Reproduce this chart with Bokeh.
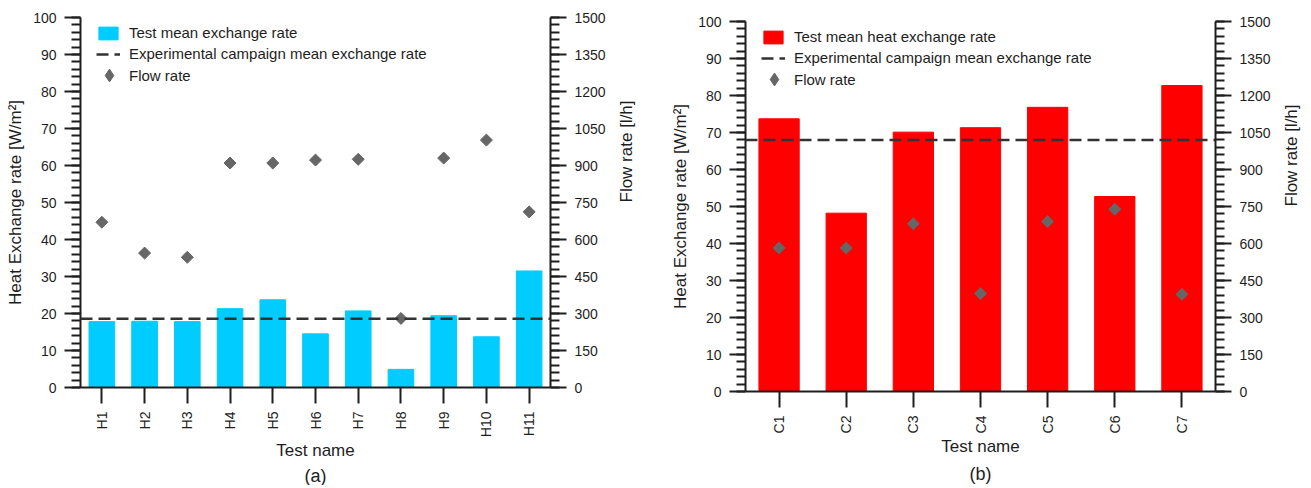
import math
from bokeh.plotting import figure
from bokeh.models import (FactorRange, Range1d, LinearAxis, SingleIntervalTicker,
                          Span, Legend, LegendItem, Title, Spacer)
from bokeh.layouts import row, column
from bokeh.embed import file_html
from bokeh.resources import INLINE

# ---------------- data ----------------
h_tests = ["H1", "H2", "H3", "H4", "H5", "H6", "H7", "H8", "H9", "H10", "H11"]
h_rate = [17.8, 17.9, 17.8, 21.3, 23.7, 14.5, 20.7, 4.9, 19.4, 13.7, 31.5]
h_flow = [670, 545, 528, 910, 910, 922, 925, 280, 930, 1003, 712]
h_mean = 18.6

c_tests = ["C1", "C2", "C3", "C4", "C5", "C6", "C7"]
c_rate = [73.7, 48.2, 70.1, 71.3, 76.8, 52.7, 82.7]
c_flow = [582, 582, 680, 397, 689, 739, 394]
c_mean = 68.0

rate_max, rate_step = 100, 10
flow_max, flow_step = 1500, 150

FONT = "Liberation Sans"
AX = "#1e1e1e"
FW, FH = 470, 370


def style_axis(ax, minor=True):
    ax.axis_line_color = AX
    ax.axis_line_width = 2
    ax.major_tick_line_color = AX
    ax.major_tick_line_width = 2
    ax.major_tick_out = 16
    ax.major_tick_in = 0
    if minor:
        ax.minor_tick_line_color = AX
        ax.minor_tick_line_width = 2
        ax.minor_tick_out = 9
        ax.minor_tick_in = 0
    ax.major_label_text_font = FONT
    ax.major_label_text_font_size = "14px"
    ax.major_label_text_color = AX
    ax.major_label_standoff = 8
    ax.axis_label_text_font = FONT
    ax.axis_label_text_font_size = "17px"
    ax.axis_label_text_font_style = "normal"
    ax.axis_label_text_color = AX


def make_panel(tests, rates, flows, mean, color, bar_label, caption,
               bl, br, bt, lstand, rstand, capstand):
    p = figure(x_range=FactorRange(*tests), y_range=Range1d(0, rate_max),
               frame_width=FW, frame_height=FH,
               min_border_left=bl, min_border_right=br,
               min_border_top=bt, min_border_bottom=0,
               output_backend="svg", toolbar_location=None,
               outline_line_color=None, background_fill_color="white",
               border_fill_color="white")
    p.xgrid.visible = False
    p.ygrid.visible = False
    p.extra_y_ranges = {"flow": Range1d(0, flow_max)}

    yax = p.yaxis[0]
    yax.ticker = SingleIntervalTicker(interval=rate_step, num_minor_ticks=5)
    yax.axis_label = "Heat Exchange rate [W/m\u00b2]"
    style_axis(yax)
    yax.axis_label_standoff = lstand

    rax = LinearAxis(y_range_name="flow",
                     ticker=SingleIntervalTicker(interval=flow_step, num_minor_ticks=5),
                     axis_label="Flow rate [l/h]")
    style_axis(rax)
    rax.axis_label_standoff = rstand
    if "axis_label_orientation" in rax.properties():
        rax.axis_label_orientation = math.pi / 2
    p.add_layout(rax, "right")

    xax = p.xaxis[0]
    style_axis(xax, minor=False)
    xax.axis_label = "Test name"
    xax.major_label_orientation = math.pi / 2
    xax.axis_label_standoff = 1

    r_bar = p.vbar(x=tests, top=rates, width=0.6, fill_color=color,
                   line_color=color)
    span = Span(location=mean, dimension="width", line_color="#333333",
                line_width=2.5, line_dash="12 6")
    p.add_layout(span)
    # one-point proxies: draw nothing in the plot, give the legend entries
    r_line = p.line(x=[tests[0]], y=[mean], line_color="#333333",
                    line_width=2.5, line_dash="12 6")
    r_dia = p.scatter(x=[tests[0]], y=[flows[0]], y_range_name="flow",
                      marker="diamond", size=0, fill_color="#666666",
                      line_color="#666666")
    p.scatter(x=tests, y=flows, y_range_name="flow", marker="square",
              angle=math.pi / 4, size=8.5, fill_color="#666666",
              line_color="#666666")

    leg1 = Legend(items=[
        LegendItem(label=bar_label, renderers=[r_bar]),
        LegendItem(label="Experimental campaign mean exchange rate", renderers=[r_line]),
    ], location=(16, FH - 7 - 38), padding=0, margin=0,
        border_line_color=None, background_fill_alpha=0,
        glyph_width=24, glyph_height=16, label_height=17, spacing=4,
        label_standoff=9, label_text_font=FONT, label_text_font_size="15px",
        label_text_color=AX)
    leg2 = Legend(items=[
        LegendItem(label="Flow rate", renderers=[r_dia]),
    ], location=(13, FH - 42 - 32), padding=0, margin=0,
        border_line_color=None, background_fill_alpha=0,
        glyph_width=32, glyph_height=32, label_height=17, spacing=0,
        label_standoff=4, label_text_font=FONT, label_text_font_size="15px",
        label_text_color=AX)
    p.add_layout(leg1)
    p.add_layout(leg2)

    cap = Title(text=caption, align="center", text_font=FONT,
                text_font_size="18px", text_font_style="normal",
                text_color=AX, standoff=capstand)
    p.add_layout(cap, "below")
    return p


pa = make_panel(h_tests, h_rate, h_flow, h_mean, "#00CCFF",
                "Test mean exchange rate", "(a)", 80, 105, 10, 5, 18, 0)
pb = make_panel(c_tests, c_rate, c_flow, c_mean, "#FF0000",
                "Test mean heat exchange rate", "(b)", 90, 80, 10, 5, 18, 4)

layout = row(column(Spacer(height=7), pa), column(Spacer(height=11), pb))
open("out.html", "w").write(file_html(layout, INLINE))
